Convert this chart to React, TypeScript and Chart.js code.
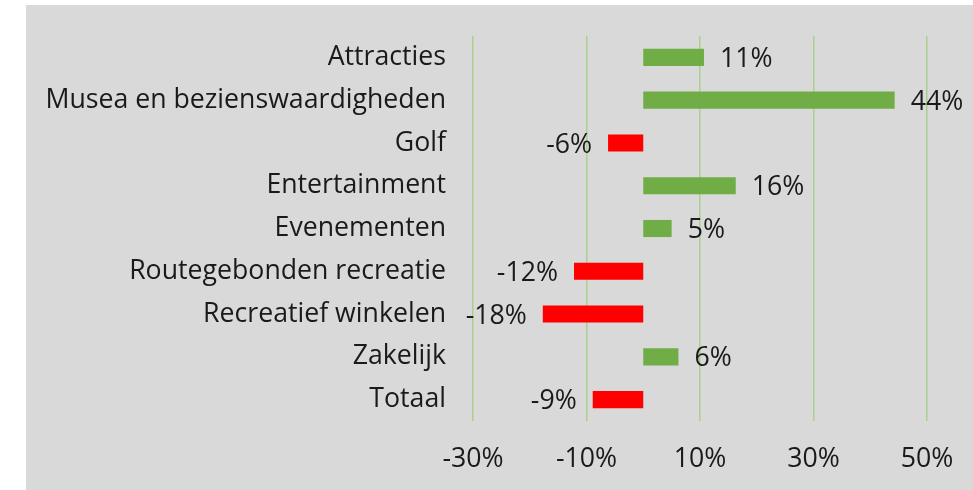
import React, { useEffect, useRef } from "react";
import { Chart, registerables } from "chart.js";

Chart.register(...registerables);

const categories = [
  "Attracties",
  "Musea en bezienswaardigheden",
  "Golf",
  "Entertainment",
  "Evenementen",
  "Routegebonden recreatie",
  "Recreatief winkelen",
  "Zakelijk",
  "Totaal",
];
const values = [10.7, 44.3, -6.2, 16.3, 5.0, -12.2, -17.7, 6.2, -8.9];
const xTickValues = [-30, -10, 10, 30, 50];

const POS = "#70ad47";
const NEG = "#ff0000";
const FONT = "'Open Sans', sans-serif";
const TEXT = "#1a1a1a";
const FS = 26.7;

const valueLabels = {
  id: "valueLabels",
  afterDatasetsDraw(chart: any) {
    const ctx = chart.ctx;
    const meta = chart.getDatasetMeta(0);
    ctx.save();
    ctx.font = `${FS}px ${FONT}`;
    ctx.fillStyle = TEXT;
    ctx.textBaseline = "middle";
    meta.data.forEach((bar: any, i: number) => {
      const v = values[i];
      const label = Math.round(v) + "%";
      if (v >= 0) {
        ctx.textAlign = "left";
        ctx.fillText(label, bar.x + 16, bar.y + 2);
      } else {
        ctx.textAlign = "right";
        ctx.fillText(label, bar.x - 16, bar.y + 2);
      }
    });
    ctx.restore();
  },
};

export default function App() {
  const ref = useRef<HTMLCanvasElement>(null);
  useEffect(() => {
    if (!ref.current) return;
    const chart = new Chart(ref.current, {
      type: "bar",
      data: {
        labels: categories,
        datasets: [
          {
            data: values,
            backgroundColor: values.map((v) => (v >= 0 ? POS : NEG)),
            categoryPercentage: 1,
            barPercentage: 0.4,
          },
        ],
      },
      options: {
        indexAxis: "y",
        animation: false,
        responsive: false,
        maintainAspectRatio: false,
        layout: { padding: { left: 0, right: 46, top: 31, bottom: 0 } },
        plugins: {
          legend: { display: false },
          tooltip: { enabled: false },
        },
        scales: {
          x: {
            min: -30,
            max: 50,
            afterBuildTicks: (scale: any) => {
              scale.ticks = xTickValues.map((v) => ({ value: v }));
            },
            afterFit: (scale: any) => {
              scale.height = 69;
              scale.paddingLeft = 0;
              scale.paddingRight = 0;
            },
            grid: {
              color: "#a9d18e",
              lineWidth: 1.5,
              drawTicks: false,
            },
            border: { display: false },
            ticks: {
              padding: 22,
              color: TEXT,
              font: { family: FONT, size: FS },
              callback: (v: any) => v + "%",
            },
          },
          y: {
            afterFit: (scale: any) => {
              scale.width = 447;
              scale.paddingTop = 0;
              scale.paddingBottom = 0;
            },
            grid: { display: false, drawTicks: false },
            border: { display: false },
            ticks: {
              padding: 27,
              color: TEXT,
              font: { family: FONT, size: FS },
            },
          },
        },
      },
      plugins: [valueLabels],
    });
    return () => chart.destroy();
  }, []);
  return (
    <div
      style={{
        position: "absolute",
        left: 26,
        top: 5,
        width: 947,
        height: 485,
        background: "#d9d9d9",
      }}
    >
      <canvas ref={ref} width={947} height={485} style={{ display: "block" }} />
    </div>
  );
}
